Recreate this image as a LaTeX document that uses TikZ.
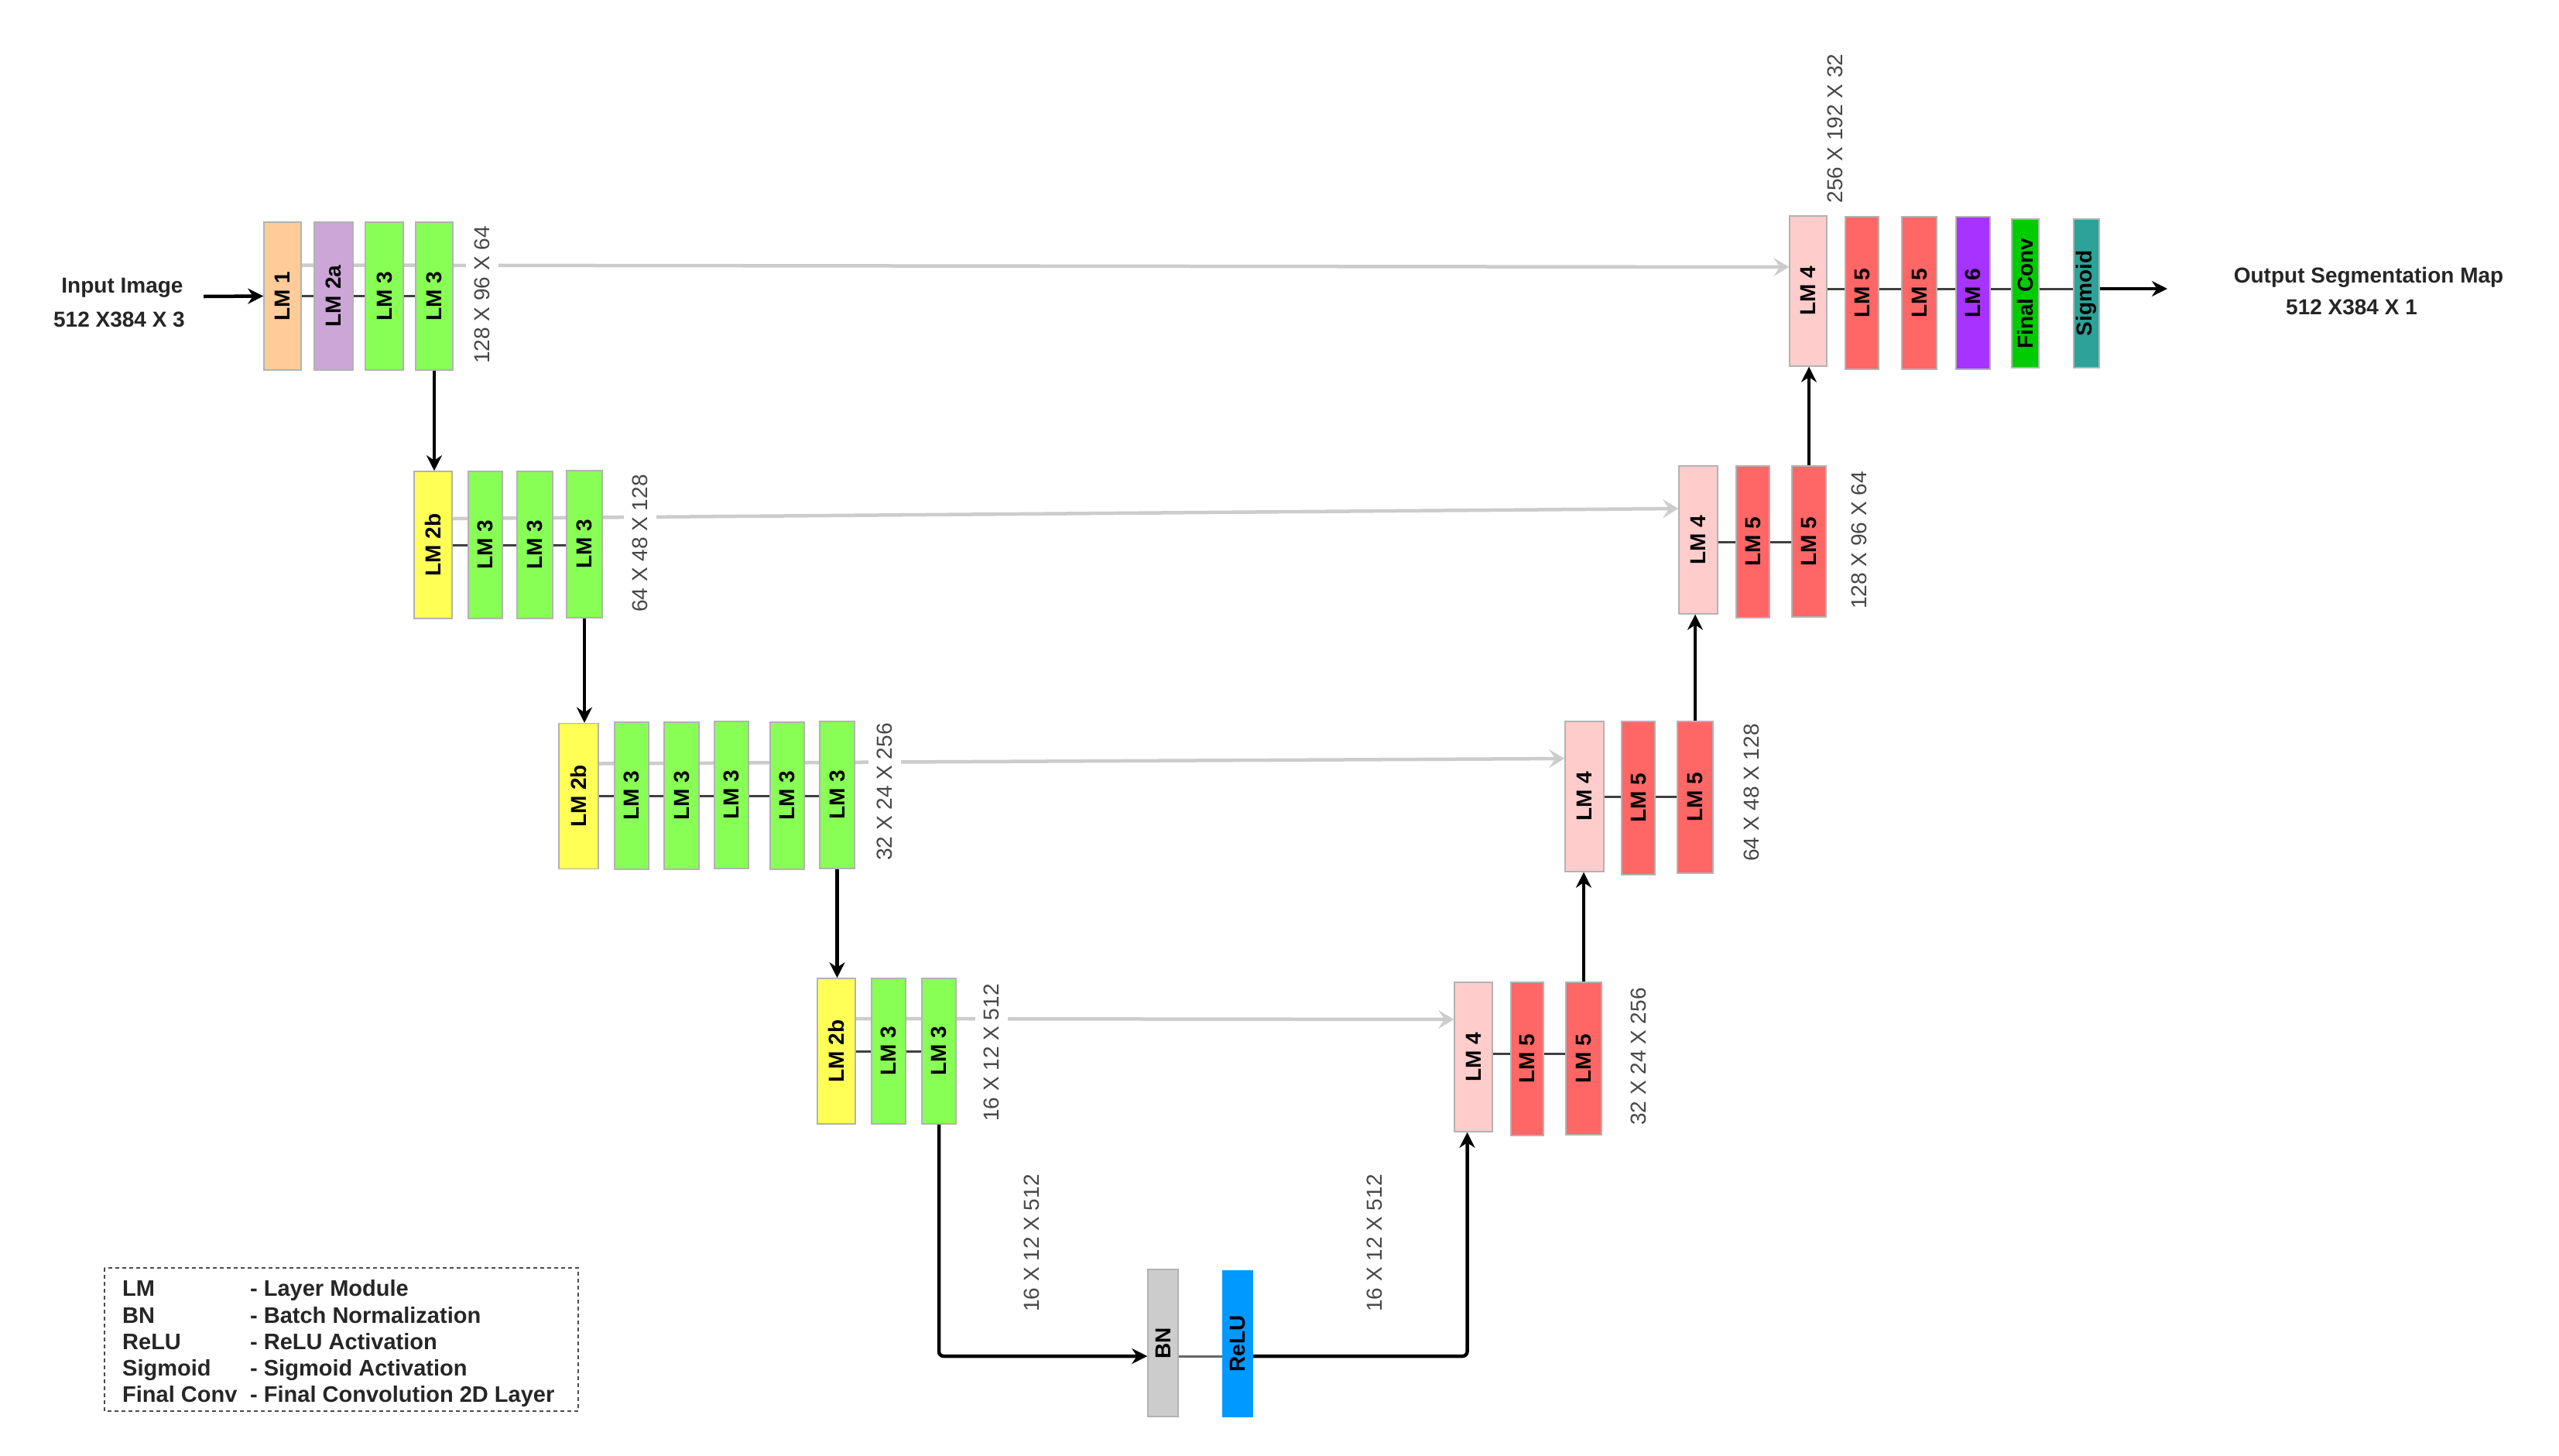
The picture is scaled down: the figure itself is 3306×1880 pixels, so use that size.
\documentclass[tikz,border=0pt]{standalone}
\usepackage{fontspec}
\setmainfont{Liberation Sans}
\usepackage{graphicx}
\usetikzlibrary{arrows.meta,calc}
\pgfdeclarelayer{bg}
\pgfdeclarelayer{paper}
\pgfsetlayers{paper,bg,main}
\definecolor{cpeach}{HTML}{FFCC99}
\definecolor{clav}{HTML}{CBA6D6}
\definecolor{cgreen}{HTML}{88FF55}
\definecolor{cyel}{HTML}{FFFF55}
\definecolor{cpink}{HTML}{FFCCCC}
\definecolor{cred}{HTML}{FF6666}
\definecolor{cpurp}{HTML}{A633FF}
\definecolor{cfconv}{HTML}{00CC00}
\definecolor{cteal}{HTML}{2BA398}
\definecolor{cbn}{HTML}{CCCCCC}
\definecolor{crelu}{HTML}{0099FF}
\definecolor{cskip}{HTML}{CCCCCC}
\newcommand{\boxlabelfont}{\fontsize{28}{32}\selectfont\bfseries}
\newcommand{\dimlabelfont}{\fontsize{28}{32}\selectfont}
\newcommand{\ioFont}{\fontsize{28}{32}\selectfont\bfseries}
\newcommand{\legFont}{\fontsize{29}{33}\selectfont\bfseries}
\tikzset{
  bx/.style={draw=black!30, line width=1.5pt, inner sep=0pt, font=\boxlabelfont},
  dimlab/.style={font=\dimlabelfont, text=black!72, rotate=90, fill=white, inner xsep=2pt, inner ysep=11pt},
  inner/.style={draw=black!75, line width=3pt},
  skip/.style={draw=cskip, line width=4.5pt, -{Stealth[length=20pt,width=24pt,inset=8pt]}},
  flow/.style={draw=black, line width=4.5pt, -{Stealth[length=20pt,width=20pt]}},
  iotext/.style={font=\ioFont, text=black!85, inner sep=0pt},
  legtext/.style={font=\legFont, text=black!85, anchor=base west, inner sep=0pt},
  legbox/.style={draw=black!70, line width=2pt, dash pattern=on 5pt off 4pt}
}
\begin{document}
\begin{tikzpicture}[x=1pt,y=-1pt]
\useasboundingbox (0,0) rectangle (3306,1880);
\begin{pgfonlayer}{paper}
\fill[white] (0,0) rectangle (3306,1880);
\end{pgfonlayer}

% ---------- encoder row 1 ----------
\node[bx, fill=cpeach, minimum width=48pt, minimum height=191pt] (L1a) at (365,382.5) {\rotatebox{90}{LM 1}};
\node[bx, fill=clav,   minimum width=50pt, minimum height=191pt] (L1b) at (431,382.5) {\rotatebox{90}{LM 2a}};
\node[bx, fill=cgreen, minimum width=49pt, minimum height=191pt] (L1c) at (496.5,382.5) {\rotatebox{90}{LM 3}};
\node[bx, fill=cgreen, minimum width=48pt, minimum height=191pt] (L1d) at (561,382.5) {\rotatebox{90}{LM 3}};

% ---------- encoder row 2 ----------
\node[bx, fill=cyel,   minimum width=49pt, minimum height=190pt] (L2a) at (559.5,704) {\rotatebox{90}{LM 2b}};
\node[bx, fill=cgreen, minimum width=44pt, minimum height=190pt] (L2b) at (627,704) {\rotatebox{90}{LM 3}};
\node[bx, fill=cgreen, minimum width=46pt, minimum height=190pt] (L2c) at (691,704) {\rotatebox{90}{LM 3}};
\node[bx, fill=cgreen, minimum width=46pt, minimum height=190pt] (L2d) at (755,703) {\rotatebox{90}{LM 3}};

% ---------- encoder row 3 ----------
\node[bx, fill=cyel,   minimum width=51pt, minimum height=188pt] (L3a) at (747.5,1028.5) {\rotatebox{90}{LM 2b}};
\node[bx, fill=cgreen, minimum width=44pt, minimum height=190pt] (L3b) at (816,1028) {\rotatebox{90}{LM 3}};
\node[bx, fill=cgreen, minimum width=45pt, minimum height=190pt] (L3c) at (880.5,1028) {\rotatebox{90}{LM 3}};
\node[bx, fill=cgreen, minimum width=44pt, minimum height=190pt] (L3d) at (945,1027) {\rotatebox{90}{LM 3}};
\node[bx, fill=cgreen, minimum width=44pt, minimum height=190pt] (L3e) at (1017,1028) {\rotatebox{90}{LM 3}};
\node[bx, fill=cgreen, minimum width=45pt, minimum height=190pt] (L3f) at (1081.5,1027) {\rotatebox{90}{LM 3}};

% ---------- encoder row 4 ----------
\node[bx, fill=cyel,   minimum width=49pt, minimum height=188pt] (L4a) at (1080.5,1358) {\rotatebox{90}{LM 2b}};
\node[bx, fill=cgreen, minimum width=44pt, minimum height=188pt] (L4b) at (1148,1358) {\rotatebox{90}{LM 3}};
\node[bx, fill=cgreen, minimum width=44pt, minimum height=188pt] (L4c) at (1213,1358) {\rotatebox{90}{LM 3}};

% ---------- bottleneck ----------
\node[bx, fill=cbn,   minimum width=39pt, minimum height=190pt] (BN) at (1502.5,1735) {\rotatebox{90}{BN}};
\node[bx, fill=crelu, draw=crelu, minimum width=38pt, minimum height=188pt] (ReLU) at (1599,1736) {\rotatebox{90}{ReLU}};

% ---------- decoder row 4 ----------
\node[bx, fill=cpink, minimum width=49pt, minimum height=193pt] (R4a) at (1903.5,1365.5) {\rotatebox{90}{LM 4}};
\node[bx, fill=cred,  minimum width=42pt, minimum height=198pt] (R4b) at (1973,1368) {\rotatebox{90}{LM 5}};
\node[bx, fill=cred,  minimum width=46pt, minimum height=197pt] (R4c) at (2046,1367.5) {\rotatebox{90}{LM 5}};

% ---------- decoder row 3 ----------
\node[bx, fill=cpink, minimum width=50pt, minimum height=194pt] (R3a) at (2047,1029) {\rotatebox{90}{LM 4}};
\node[bx, fill=cred,  minimum width=43pt, minimum height=198pt] (R3b) at (2116.5,1031) {\rotatebox{90}{LM 5}};
\node[bx, fill=cred,  minimum width=46pt, minimum height=196pt] (R3c) at (2190,1030) {\rotatebox{90}{LM 5}};

% ---------- decoder row 2 ----------
\node[bx, fill=cpink, minimum width=50pt, minimum height=191pt] (R2a) at (2194,697.5) {\rotatebox{90}{LM 4}};
\node[bx, fill=cred,  minimum width=43pt, minimum height=196pt] (R2b) at (2264.5,700) {\rotatebox{90}{LM 5}};
\node[bx, fill=cred,  minimum width=44pt, minimum height=195pt] (R2c) at (2337,699.5) {\rotatebox{90}{LM 5}};

% ---------- decoder row 1 ----------
\node[bx, fill=cpink,  minimum width=48pt, minimum height=194pt] (R1a) at (2336,376) {\rotatebox{90}{LM 4}};
\node[bx, fill=cred,   minimum width=43pt, minimum height=197pt] (R1b) at (2405.5,378.5) {\rotatebox{90}{LM 5}};
\node[bx, fill=cred,   minimum width=45pt, minimum height=197pt] (R1c) at (2479.5,378.5) {\rotatebox{90}{LM 5}};
\node[bx, fill=cpurp,  minimum width=44pt, minimum height=197pt] (R1d) at (2549,378.5) {\rotatebox{90}{LM 6}};
\node[bx, fill=cfconv, minimum width=35pt, minimum height=192pt] (R1e) at (2616.5,379) {\rotatebox{90}{Final Conv}};
\node[bx, fill=cteal,  minimum width=33pt, minimum height=192pt] (R1f) at (2695.5,379) {\rotatebox{90}{Sigmoid}};

% ---------- input / output texts ----------
\node[iotext] (inT1) at (158,372) {Input Image};
\node[iotext] (inT2) at (154,413) {512 X384 X 3};
\coordinate (inStart) at (263,383);
\node[iotext] (outT1) at (3060,358) {Output Segmentation Map};
\node[iotext] (outT2) at (3038,397) {512 X384 X 1};
\coordinate (outEnd) at (2800,373);

% ---------- background connectors ----------
\begin{pgfonlayer}{bg}
  \draw[inner] (L1a.center) -- (L1d.center);
  \draw[inner] (L2a.center) -- (L2a.center -| L2d.center);
  \draw[inner] (L3a.center) -- (L3a.center -| L3f.center);
  \draw[inner] (L4a.center) -- (L4a.center -| L4c.center);
  \draw[inner] ([yshift=4pt]R4a.center) -- ([yshift=4pt]R4a.center -| R4c.center);
  \draw[inner] (R3a.center) -- (R3a.center -| R3c.center);
  \draw[inner] ([yshift=-3pt]R2a.center) -- ([yshift=-3pt]R2a.center -| R2c.center);
  \draw[inner] ([yshift=3pt]R1a.center) -- ([yshift=3pt]R1a.center -| R1f.center);
  \draw[skip] ([yshift=40pt]L1a.east) -- ([yshift=31pt]R1a.west);
  \draw[skip] ([yshift=34pt]L2a.east) -- ([yshift=40.5pt]R2a.west);
  \draw[skip] ([yshift=42pt]L3a.east) -- ([yshift=49pt]R3a.west);
  \draw[skip] ([yshift=42pt]L4a.east) -- ([yshift=48.5pt]R4a.west);
\end{pgfonlayer}

% ---------- dimension labels ----------
\node[dimlab] (d1) at (623,381) {128 X 96 X 64};
\node[dimlab] (d2) at (827,702) {64 X 48 X 128};
\node[dimlab] (d3) at (1143,1023) {32 X 24 X 256};
\node[dimlab] (d4) at (1281,1360) {16 X 12 X 512};
\node[dimlab] (d5) at (1333,1606) {16 X 12 X 512};
\node[dimlab] (d6) at (1776,1606) {16 X 12 X 512};
\node[dimlab] (d7) at (2117,1365) {32 X 24 X 256};
\node[dimlab] (d8) at (2263,1024) {64 X 48 X 128};
\node[dimlab] (d9) at (2402,698) {128 X 96 X 64};
\node[dimlab] (d10) at (2371,166) {256 X 192 X 32};

% ---------- main flow arrows ----------
\draw[flow] (inStart) -- (L1a.west);
\draw[flow] (L1d.south) -- (L1d.south |- L2a.north);
\draw[flow] (L2d.south) -- (L2d.south |- L3a.north);
\draw[flow] (L3f.south) -- (L3f.south |- L4a.north);
\draw[flow, rounded corners=6pt] (L4c.south) |- ([yshift=-17pt]BN.west);
\draw[draw=black!60, line width=3pt] ([yshift=-17pt]BN.east) -- ([yshift=-17pt]BN.east -| ReLU.west);
\draw[flow, rounded corners=6pt] ([yshift=-16pt]ReLU.east) -| ([xshift=-8pt]R4a.south);
\draw[flow] (R4c.north) -- (R4c.north |- R3a.south);
\draw[flow] (R3c.north) -- (R3c.north |- R2a.south);
\draw[flow] (R2c.north) -- (R2c.north |- R1a.south);
\draw[flow] ([yshift=6pt]R1f.east) -- (outEnd);

% ---------- legend ----------
\draw[legbox] (135,1638) rectangle (747,1823);
\node[legtext] (k1) at (158,1674) {LM};
\node[legtext] (v1) at (323,1674) {- Layer Module};
\node[legtext] (k2) at (158,1709) {BN};
\node[legtext] (v2) at (323,1709) {- Batch Normalization};
\node[legtext] (k3) at (158,1743) {ReLU};
\node[legtext] (v3) at (323,1743) {- ReLU Activation};
\node[legtext] (k4) at (158,1777) {Sigmoid};
\node[legtext] (v4) at (323,1777) {- Sigmoid Activation};
\node[legtext] (k5) at (158,1811) {Final Conv};
\node[legtext] (v5) at (323,1811) {- Final Convolution 2D Layer};
\end{tikzpicture}
\end{document}
